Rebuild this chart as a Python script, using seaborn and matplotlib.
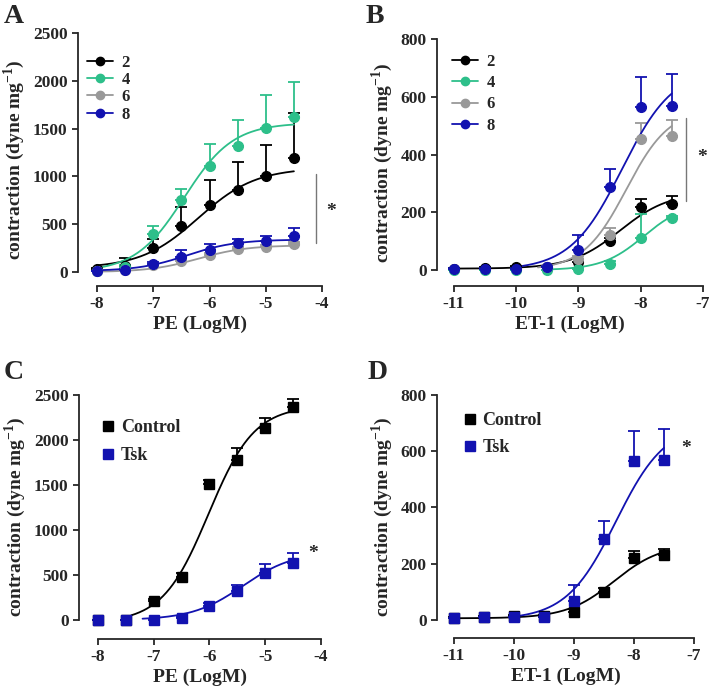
import numpy as np
import matplotlib
matplotlib.use("Agg")
import matplotlib.pyplot as plt
from matplotlib.lines import Line2D
import seaborn as sns

# ---- data ----
pe_x = [-8, -7.5, -7, -6.5, -6, -5.5, -5, -4.5]
et_x = [-11, -10.5, -10, -9.5, -9, -8.5, -8, -7.5]

# panel A: PE, age groups (weeks)
a_mean_2 = [30, 60, 250, 480, 700, 860, 1000, 1190]
a_sem_2 = [15, 90, 100, 200, 260, 290, 330, 470]
a_mean_4 = [10, 50, 400, 750, 1110, 1320, 1510, 1620]
a_sem_4 = [5, 20, 80, 115, 230, 270, 340, 365]
a_mean_6 = [10, 20, 70, 120, 180, 240, 265, 290]
a_sem_6 = [5, 5, 10, 15, 20, 20, 20, 20]
a_mean_8 = [10, 25, 80, 160, 230, 300, 325, 375]
a_sem_8 = [5, 10, 20, 70, 60, 45, 50, 85]

# panel B: ET-1, age groups
b_mean_2 = [5, 8, 10, 12, 28, 100, 218, 230]
b_sem_2 = [3, 3, 3, 3, 10, 12, 27, 25]
b_mean_4 = [0, 0, 0, 0, 5, 22, 110, 180]
b_sem_4 = [1, 1, 1, 1, 3, 8, 85, 8]
b_x_6 = [-9.5, -9, -8.5, -8, -7.5]
b_mean_6 = [10, 40, 120, 455, 465]
b_sem_6 = [3, 8, 25, 55, 55]
b_mean_8 = [5, 5, 5, 10, 70, 288, 565, 568]
b_sem_8 = [2, 2, 2, 3, 50, 62, 105, 112]

# panel C: PE, control vs Tsk
c_mean_ctl = [0, 0, 210, 480, 1510, 1780, 2130, 2370]
c_sem_ctl = [5, 5, 20, 40, 50, 130, 110, 90]
c_mean_tsk = [0, 0, 5, 20, 160, 320, 520, 630]
c_sem_tsk = [3, 3, 5, 10, 25, 70, 100, 120]

# panel D: ET-1, control vs Tsk
d_mean_ctl = [5, 10, 15, 15, 28, 100, 218, 230]
d_sem_ctl = [3, 3, 3, 3, 10, 12, 27, 22]
d_mean_tsk = [5, 8, 8, 8, 68, 287, 565, 568]
d_sem_tsk = [2, 2, 2, 2, 54, 65, 107, 111]

# fitted sigmoid parameters (bottom, top, logEC50, hill, x start, x end)
a_fit = {"2": (40, 1090, -6.2, 0.85, -8, -4.5), "4": (0, 1560, -6.45, 1.0, -8, -4.5),
         "6": (0, 280, -6.2, 1.0, -8, -4.5), "8": (10, 340, -6.4, 1.0, -8, -4.5)}
b_fit = {"2": (5, 270, -8.33, 1.1, -11, -7.5), "4": (0, 235, -7.95, 1.3, -9.5, -7.5),
         "6": (0, 560, -8.23, 1.25, -9.65, -7.5), "8": (0, 700, -8.3, 1.05, -9.9, -7.5)}
c_fit = {"Control": (-30, 2380, -6.02, 1.05, -7.4, -4.5), "Tsk": (0, 760, -5.4, 0.95, -7.2, -4.5)}
d_fit = {"Control": (5, 270, -8.33, 1.1, -11, -7.5), "Tsk": (0, 700, -8.3, 1.05, -10.0, -7.5)}

BLACK = "#000000"
GREEN = "#2dbf8a"
GREY = "#999999"
BLUE = "#1212b0"

sns.set_style("ticks")
plt.rcParams["font.family"] = ["Liberation Serif", "DejaVu Serif"]
plt.rcParams["font.weight"] = "bold"
plt.rcParams["mathtext.fontset"] = "custom"
plt.rcParams["mathtext.rm"] = "Liberation Serif:bold"
plt.rcParams["mathtext.bf"] = "Liberation Serif:bold"

fig = plt.figure(figsize=(7.09, 6.91), dpi=100)
W, H = 709, 691


def add_ax(left, top, right, bottom):
    return fig.add_axes([left / W, 1 - bottom / H, (right - left) / W, (bottom - top) / H])


def hill(p):
    b, t, e, h, x0, x1 = p
    xs = np.linspace(x0, x1, 200)
    return xs, b + (t - b) / (1 + 10 ** (h * (e - xs)))


def draw_series(ax, x, mean, sem, fit, color, marker, label, ms):
    xs, ys = hill(fit)
    sns.lineplot(x=xs, y=ys, ax=ax, color=color, lw=1.3, legend=False)
    ax.errorbar(x, mean, yerr=[np.zeros(len(sem)), sem], fmt="none",
                ecolor=color, elinewidth=1.3, capsize=4, capthick=1.3, clip_on=False)
    ax.plot(x, mean, ls="none", marker=marker, ms=ms, color=color, clip_on=False, zorder=5,
            label=label)


def style_ax(ax, xlim, xb, ylim, yb, xticks, yticks, xlabel):
    ax.set_xlim(*xlim)
    ax.set_ylim(*ylim)
    ax.spines["right"].set_visible(False)
    ax.spines["top"].set_visible(False)
    ax.spines["bottom"].set_bounds(*xb)
    ax.spines["left"].set_bounds(*yb)
    for s in ["bottom", "left"]:
        ax.spines[s].set_linewidth(1.3)
    ax.set_xticks(xticks)
    ax.set_yticks(yticks)
    ax.set_xticklabels([str(t) for t in xticks])
    ax.tick_params(labelsize=12.5, width=1.3, length=4)
    for lab in ax.get_xticklabels() + ax.get_yticklabels():
        lab.set_fontweight("bold")
    ax.set_xlabel(xlabel, fontsize=14, fontweight="bold", labelpad=2)
    ax.set_ylabel(r"contraction (dyne mg$^{\mathbf{-1}}$)", fontsize=14, fontweight="bold",
                  labelpad=4)


def legend(ax, anchor, line, spacing):
    handles, labels = ax.get_legend_handles_labels()
    if line:
        handles = [Line2D([], [], color=h.get_color(), marker="o", ms=6, lw=1.3) for h in handles]
        fs = 12
    else:
        fs = 13
    leg = ax.legend(handles, labels, loc="upper left", bbox_to_anchor=anchor, frameon=False,
                    fontsize=fs, handlelength=1.6 if line else 0.8,
                    handletextpad=0.5 if line else 0.3,
                    labelspacing=spacing, borderaxespad=0.0, borderpad=0.0)
    for t in leg.get_texts():
        t.set_fontweight("bold")


# ---- panel A ----
axA = add_ax(78, 33, 322, 286)
for key, mean, sem, col in [("2", a_mean_2, a_sem_2, BLACK), ("4", a_mean_4, a_sem_4, GREEN),
                            ("6", a_mean_6, a_sem_6, GREY), ("8", a_mean_8, a_sem_8, BLUE)]:
    draw_series(axA, pe_x, mean, sem, a_fit[key], col, "o", key, 7)
style_ax(axA, (-8.34, -4.0), (-8, -4), (-146, 2500), (0, 2500),
         [-8, -7, -6, -5, -4], [0, 500, 1000, 1500, 2000, 2500], "PE (LogM)")
legend(axA, (0.035, 0.915), True, 0.08)
axA.plot([-4.1, -4.1], [300, 1030], color="#777777", lw=1.0, clip_on=False)
axA.text(-3.84, 630, "*", fontsize=14, ha="center", va="center")

# ---- panel B ----
axB = add_ax(437, 39, 703, 286)
for key, x, mean, sem, col in [("2", et_x, b_mean_2, b_sem_2, BLACK),
                               ("4", et_x, b_mean_4, b_sem_4, GREEN),
                               ("6", b_x_6, b_mean_6, b_sem_6, GREY),
                               ("8", et_x, b_mean_8, b_sem_8, BLUE)]:
    draw_series(axB, x, mean, sem, b_fit[key], col, "o", key, 7)
style_ax(axB, (-11.27, -7.0), (-11, -7), (-55, 800), (0, 800),
         [-11, -10, -9, -8, -7], [0, 200, 400, 600, 800], "ET-1 (LogM)")
legend(axB, (0.055, 0.94), True, 0.32)
axB.plot([-7.28, -7.28], [240, 525], color="#777777", lw=1.0, clip_on=False)
axB.text(-7.02, 390, "*", fontsize=14, ha="center", va="center")

# ---- panel C ----
axC = add_ax(79, 395, 321, 639)
draw_series(axC, pe_x, c_mean_ctl, c_sem_ctl, c_fit["Control"], BLACK, "s", "Control", 7)
draw_series(axC, pe_x, c_mean_tsk, c_sem_tsk, c_fit["Tsk"], BLUE, "s", "Tsk", 7)
style_ax(axC, (-8.34, -4.0), (-8, -4), (-211, 2500), (0, 2500),
         [-8, -7, -6, -5, -4], [0, 500, 1000, 1500, 2000, 2500], "PE (LogM)")
legend(axC, (0.09, 0.9), False, 0.6)
axC.text(-4.14, 740, "*", fontsize=14, ha="center", va="center")

# ---- panel D ----
axD = add_ax(437, 395, 694, 638)
draw_series(axD, et_x, d_mean_ctl, d_sem_ctl, d_fit["Control"], BLACK, "s", "Control", 7)
draw_series(axD, et_x, d_mean_tsk, d_sem_tsk, d_fit["Tsk"], BLUE, "s", "Tsk", 7)
style_ax(axD, (-11.28, -7.0), (-11, -7), (-65, 800), (0, 800),
         [-11, -10, -9, -8, -7], [0, 200, 400, 600, 800], "ET-1 (LogM)")
legend(axD, (0.1, 0.93), False, 0.55)
axD.text(-7.13, 610, "*", fontsize=14, ha="center", va="center")

# panel letters
for lbl, x, y in [("A", 4, 4), ("B", 366, 4), ("C", 4, 360), ("D", 368, 360)]:
    fig.text(x / W, 1 - y / H, lbl, fontsize=20, fontweight="bold", ha="left", va="top")

fig.savefig("out.png", dpi=100)
